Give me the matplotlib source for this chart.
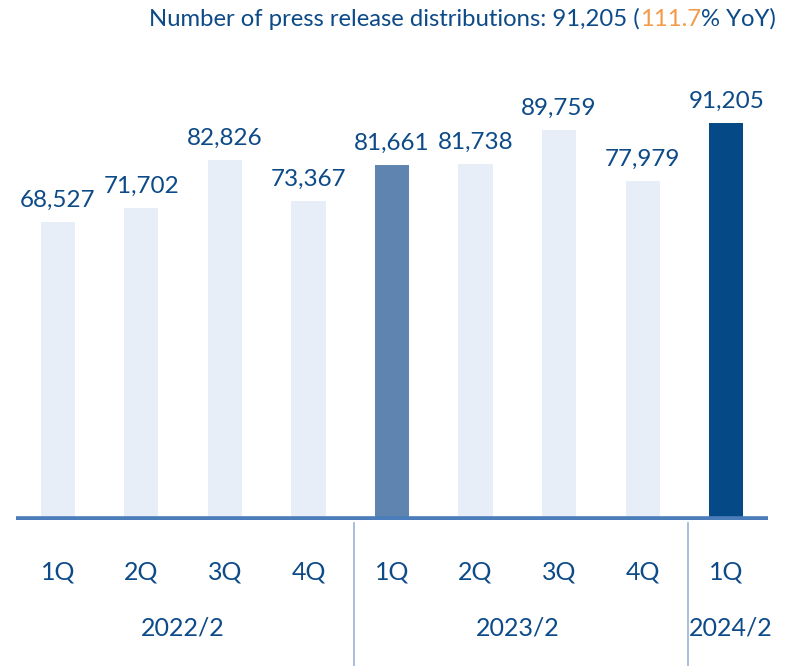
import matplotlib
matplotlib.use("Agg")
import matplotlib.pyplot as plt
import matplotlib.transforms as mtransforms

quarters = ["1Q", "2Q", "3Q", "4Q", "1Q", "2Q", "3Q", "4Q", "1Q"]
values = [68527, 71702, 82826, 73367, 81661, 81738, 89759, 77979, 91205]
years = ["2022/2", "2023/2", "2024/2"]
year_spans = [(0, 3), (4, 7), (8, 8)]
title_parts = ["Number of press release distributions: 91,205 (", "111.7", "% YoY)"]

LIGHT = "#e8eef7"
MID = "#6084b0"
DARK = "#054a87"
TEXT = "#0d4a88"
AXIS = "#4a7dba"
ORANGE = "#f39b4b"
bar_colors = [LIGHT, LIGHT, LIGHT, LIGHT, MID, LIGHT, LIGHT, LIGHT, DARK]

plt.rcParams["font.family"] = ["Lato", "DejaVu Sans"]

W, H = 792, 666
fig = plt.figure(figsize=(W / 100, H / 100), dpi=100)
ax = fig.add_axes([16 / W, (H - 520) / H, (768 - 16) / W, (520 - 85) / H])

x = list(range(len(values)))
ax.bar(x, values, width=0.41, color=bar_colors, zorder=2)
ax.axhline(0, color=AXIS, lw=5.5, zorder=3)
ax.set_xlim(-0.5, 8.5)
ax.set_ylim(0, 100000)
ax.axis("off")

for xi, v in zip(x, values):
    ax.annotate(f"{v:,}", (xi, v), xytext=(0, 8), textcoords="offset points",
                ha="center", va="bottom", fontsize=17.5, color=TEXT)

trans = mtransforms.blended_transform_factory(ax.transData, fig.transFigure)
for xi, q in zip(x, quarters):
    ax.text(xi, (H - 572) / H, q, transform=trans, ha="center", va="center",
            fontsize=18, color=TEXT)
for (a, b), yr in zip(year_spans, years):
    ax.text((a + b) / 2 + (0.05 if a == b else 0), (H - 628) / H, yr,
            transform=trans, ha="center", va="center", fontsize=18, color=TEXT)

for xd in [3.54, 7.54]:
    ax.plot([xd, xd], [(H - 523) / H, 0], transform=trans, color="#9ab3d6",
            lw=1.2, clip_on=False)

# title: pieces placed right to left
renderer = fig.canvas.get_renderer()
xr = 776 / W
for part, col in zip(reversed(title_parts), [TEXT, ORANGE, TEXT]):
    t = fig.text(xr, (H - 19) / H, part, ha="right", va="center",
                 fontsize=17.2, color=col)
    bb = t.get_window_extent(renderer)
    xr = bb.x0 / W

fig.savefig("out.png", dpi=100)
